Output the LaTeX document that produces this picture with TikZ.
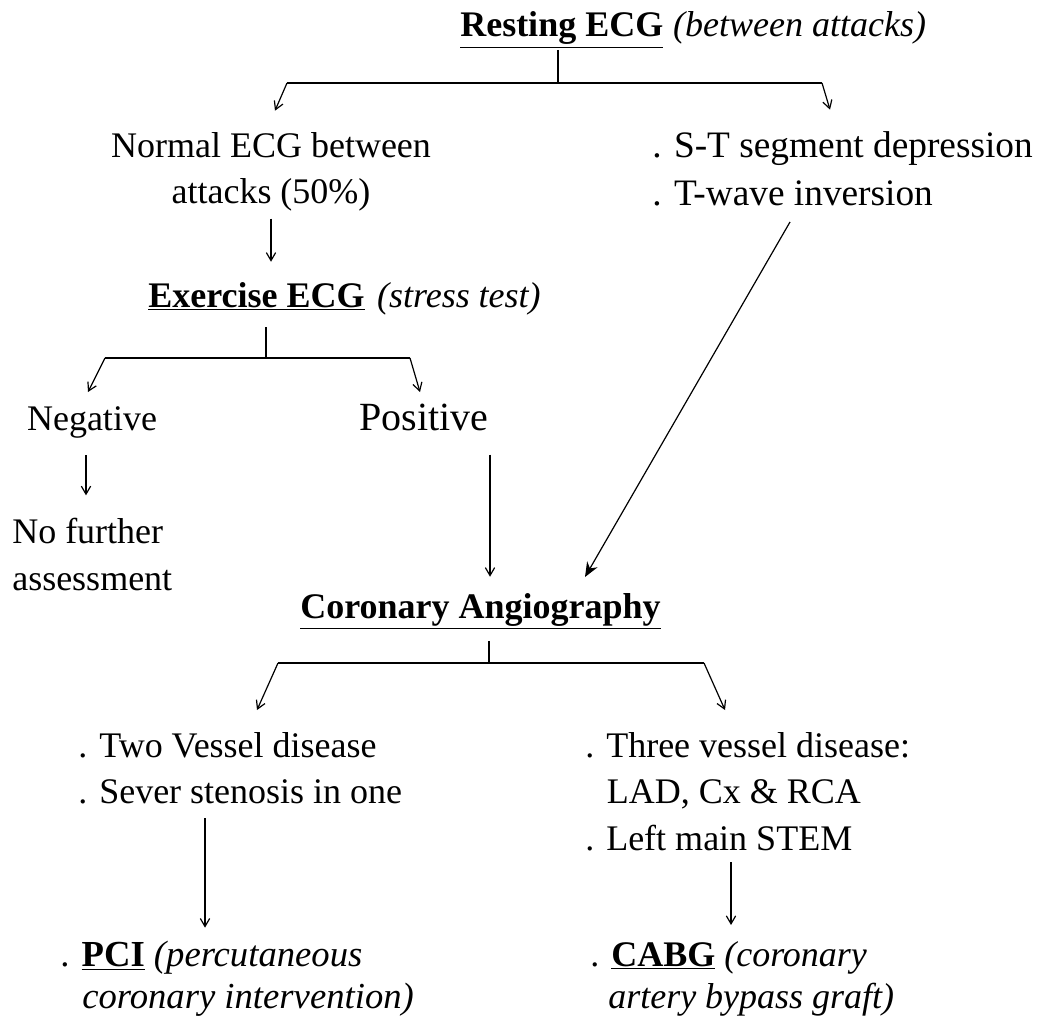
\documentclass[tikz,border=0pt]{standalone}
\usepackage{fontspec}
\setmainfont{Liberation Serif}
\usetikzlibrary{arrows.meta,positioning}

\tikzset{
  lbl/.style={inner sep=0pt, font=\fontsize{27}{35}\selectfont},
  arr/.style={line width=0.9pt, -{Straight Barb[length=6pt,width=7pt]}},
  fork/.style={line width=0.9pt},
  bigarr/.style={line width=0.9pt, -{Stealth[length=11pt,width=9pt]}}
}

\begin{document}
\begin{tikzpicture}[x=0.75pt,y=0.75pt,yscale=-1,xscale=1]
	\useasboundingbox (0,0) rectangle (1037,1016);
	
	% Text Node
	\node [lbl, anchor=base west] (rest) at (460,37) {\underline{\textbf{Resting ECG}}};
	\node [lbl, base right=7pt of rest] (restnote) {\textit{(between attacks)}};
	% Text Node
	\node [lbl, anchor=north, align=center] (normal) at (271,132) {Normal ECG between\\attacks (50\%)};
	% Text Node
	\node [lbl, anchor=north west, align=left, font=\fontsize{28}{36}\selectfont] (st) at (652,131) {. S-T segment depression\\. T-wave inversion};
	% Text Node
	\node [lbl, anchor=base west] (exer) at (148,307) {\underline{\textbf{Exercise ECG}}};
	\node [lbl, base right=9pt of exer] (exernote) {\textit{(stress test)}};
	% Text Node
	\node [lbl, anchor=base] (neg) at (92,430) {Negative};
	\node [lbl, anchor=base, font=\fontsize{30}{36}\selectfont] (pos) at (424,430) {Positive};
	% Text Node
	\node [lbl, anchor=north west, align=left] (nofurther) at (12,518) {No further\\assessment};
	% Text Node
	\node [lbl, anchor=base west] (ang) at (300,618) {\underline{\textbf{Coronary\ Angiography}}};
	% Text Node
	\node [lbl, anchor=north west, align=left] (two) at (78,732) {. Two Vessel disease\\. Sever stenosis in one};
	\node [lbl, anchor=north west, align=left] (three) at (585,732) {. Three vessel disease:\\\hspace*{0.6em}LAD, Cx \& RCA\\. Left main STEM};
	% Text Node
	\node [lbl, anchor=north west, align=left, font=\fontsize{27.5}{31.5}\selectfont] (pci) at (60,941) {. \underline{\textbf{PCI}} \textit{(percutaneous}\\\hspace*{0.6em}\textit{coronary intervention)}};
	\node [lbl, anchor=north west, align=left, font=\fontsize{27}{31.5}\selectfont] (cabg) at (590,941) {. \underline{\textbf{CABG}} \textit{(coronary}\\\hspace*{0.5em}\textit{artery bypass graft)}};
	
	% forks
	\coordinate (restfork) at (558,83);
	\coordinate (restL) at (287,83);
	\coordinate (restR) at (822,83);
	\coordinate (exfork) at (266,358);
	\coordinate (exL) at (105,358);
	\coordinate (exR) at (410,358);
	\coordinate (angfork) at (489,663);
	\coordinate (angL) at (278,663);
	\coordinate (angR) at (704,663);
	
	\draw [fork] (restfork |- rest.south) ++(0,2) -- (restfork);
	\draw [fork] (restL) -- (restR);
	\draw [arr] (restL) -- ([yshift=-16pt]normal.north -| 275,0);
	\draw [arr] (restR) -- ([yshift=-16pt]st.north -| 830,0);
	\draw [arr] ([yshift=5pt]normal.south) -- ([yshift=-15pt]exer.north -| normal.south);
	\draw [fork] (exfork |- exer.south) ++(0,17) -- (exfork);
	\draw [fork] (exL) -- (exR);
	\draw [arr] (exL) -- (88,392);
	\draw [arr] (exR) -- (420,392);
	\draw [arr] ([yshift=13pt]neg.south -| 86,0) -- ([yshift=-17pt]nofurther.north -| 86,0);
	\draw [arr] ([yshift=18pt]pos.south -| 490,0) -- ([yshift=-12pt]ang.north -| 490,0);
	\draw [bigarr] ([yshift=12pt]st.south -| 790,0) -- (585,577);
	\draw [fork] (angfork |- ang.south) ++(0,12) -- (angfork);
	\draw [fork] (angL) -- (angR);
	\draw [arr] (angL) -- (257,710);
	\draw [arr] (angR) -- (725,710);
	\draw [arr] ([yshift=10pt]two.south -| 205,0) -- ([yshift=-10pt]pci.north -| 205,0);
	\draw [arr] ([yshift=8pt]three.south -| 731,0) -- ([yshift=-12pt]cabg.north -| 731,0);
	
\end{tikzpicture}
\end{document}
